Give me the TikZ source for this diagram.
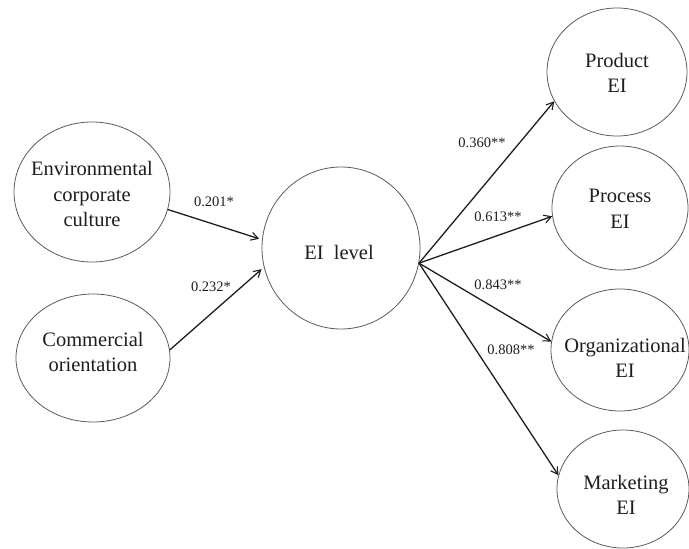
\documentclass[tikz,border=0pt]{standalone}
\usepackage{fontspec}
\setmainfont{Liberation Serif}
\usetikzlibrary{shapes.geometric,arrows.meta}
\definecolor{rimgray}{HTML}{5A5A5A}
\definecolor{inkdark}{HTML}{1E1E1E}
\tikzset{
  construct/.style={ellipse, draw=rimgray, line width=0.8pt, inner sep=0pt},
  caption/.style={text=inkdark, align=center, inner sep=0pt,
    font=\fontsize{20.5}{25.5}\selectfont},
  pathlink/.style={draw=inkdark, line width=1.3pt,
    -{Straight Barb[length=7pt,width=8pt,line width=1.1pt]}},
  coef/.style={text=inkdark, inner sep=0pt, font=\fontsize{14.5}{17}\selectfont}
}
\begin{document}
\begin{tikzpicture}[x=1pt,y={(0pt,-1pt)}]
\useasboundingbox (0,0) rectangle (689,549);

% latent constructs (outline nodes)
\node[construct, minimum width=156pt, minimum height=140pt] (env) at (92,192) {};
\node[construct, minimum width=154pt, minimum height=128pt] (comm) at (93,358) {};
\node[construct, minimum width=158pt, minimum height=162pt] (eil) at (341,248) {};
\node[construct, minimum width=140pt, minimum height=128pt] (prod) at (617,72) {};
\node[construct, minimum width=136pt, minimum height=124pt] (proc) at (620,208) {};
\node[construct, minimum width=138pt, minimum height=122pt] (org) at (620,350) {};
\node[construct, minimum width=132pt, minimum height=118pt] (mkt) at (623,489) {};

% construct names
\node[caption] (envT)  at (92,194)  {Environmental\\corporate\\culture};
\node[caption] (commT) at (93,352)  {Commercial\\orientation};
\node[caption] (eilT)  at (339,252) {EI\ \ level};
\node[caption] (prodT) at (617,73)  {Product\\EI};
\node[caption] (procT) at (620,209) {Process\\EI};
\node[caption] (orgT)  at (625,358) {Organizational\\EI};
\node[caption] (mktT)  at (626,495) {Marketing\\EI};

% shared origin of the outgoing paths
\coordinate (hub) at (eil.-11);

% incoming paths
\draw[pathlink, shorten >=3pt] (env.-13) -- (eil.174.5);
\draw[pathlink, shorten >=3pt] (comm.6) -- (eil.194.7);

% outgoing paths
\draw[pathlink] (hub) -- (prod.205);
\draw[pathlink] (hub) -- (proc.187.5);
\draw[pathlink] (hub) -- (org.173.5);
\draw[pathlink] (hub) -- (mkt.168);

% path coefficients
\node[coef] (c1) at (214,202) {0.201*};
\node[coef] (c2) at (211,287) {0.232*};
\node[coef] (c3) at (482,143) {0.360**};
\node[coef] (c4) at (498,217) {0.613**};
\node[coef] (c5) at (498,285) {0.843**};
\node[coef] (c6) at (511,350) {0.808**};
\end{tikzpicture}
\end{document}
